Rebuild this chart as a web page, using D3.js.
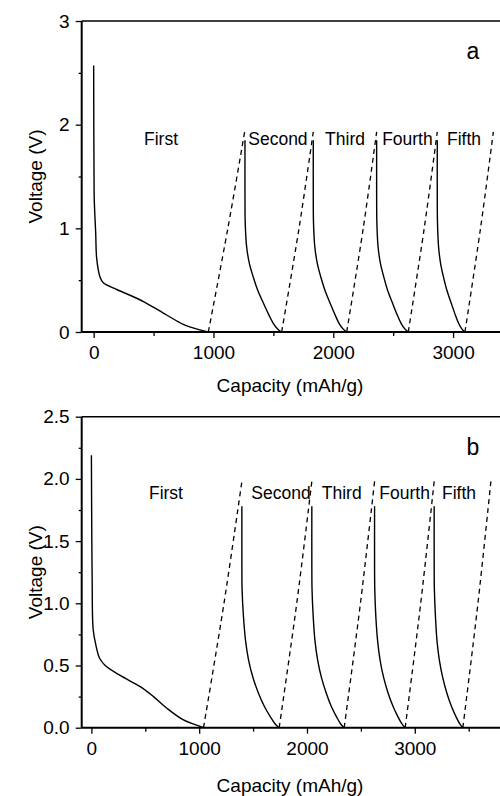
<!DOCTYPE html>
<html><head><meta charset="utf-8">
<script src="https://cdn.jsdelivr.net/npm/d3@7/dist/d3.min.js"></script>
<style>body{margin:0;background:#fff}svg{display:block}text{font-family:Arial,"Liberation Sans",sans-serif;fill:#000}</style>
</head><body><svg id="c" width="500" height="796"></svg>
<script>
// ---------- data (capacity mAh/g, voltage V) ----------
const cycleLabels = ["First","Second","Third","Fourth","Fifth"];
// panel a
const aDischarge1 = [[0,2.57],[1,2.0],[3,1.5],[5,1.27],[17,0.95],[25,0.71],[53,0.53],[80,0.475],[192,0.41],[331,0.34],[442,0.277],[609,0.164],[748,0.074],[887,0.02],[957,0]];
const aDischarge2 = [[1263,1.85],[1263,1.3],[1265,1.05],[1277,0.82],[1300,0.66],[1332,0.53],[1370,0.40],[1416,0.28],[1460,0.17],[1499,0.084],[1535,0.03],[1569,0]];
const aDischarge3 = [[1833,1.85],[1833,1.3],[1835,1.05],[1846,0.82],[1867,0.66],[1896,0.53],[1931,0.40],[1973,0.28],[2013,0.17],[2048,0.084],[2081,0.03],[2112,0]];
const aDischarge4 = [[2362,1.85],[2362,1.3],[2364,1.05],[2374,0.82],[2394,0.66],[2422,0.53],[2454,0.40],[2494,0.28],[2532,0.17],[2566,0.084],[2597,0.03],[2626,0]];
const aDischarge5 = [[2868,1.85],[2868,1.3],[2870,1.05],[2879,0.82],[2896,0.66],[2920,0.53],[2949,0.40],[2984,0.28],[3017,0.17],[3046,0.084],[3073,0.03],[3099,0]];
const aCharge1 = [[957,0],[1120,1.0],[1263,1.95]];
const aCharge2 = [[1569,0],[1714,1.0],[1833,1.93]];
const aCharge3 = [[2112,0],[2250,1.0],[2362,1.93]];
const aCharge4 = [[2626,0],[2759,1.0],[2868,1.93]];
const aCharge5 = [[3099,0],[3229,1.0],[3336,1.93]];
const aLabelPos = [[562,1.80],[1538,1.80],[2098,1.80],[2619,1.80],[3091,1.80]];
// panel b
const bDischarge1 = [[0,2.19],[2,1.8],[4,1.5],[7,1.19],[17,0.785],[45,0.65],[75,0.56],[128,0.50],[267,0.42],[453,0.33],[576,0.25],[700,0.156],[854,0.062],[1009,0.01],[1040,0]];
const bDischarge2 = [[1396,1.78],[1396,1.3],[1398,1.107],[1411,0.89],[1430,0.70],[1458,0.544],[1500,0.40],[1550,0.277],[1605,0.17],[1659,0.089],[1705,0.03],[1742,0]];
const bDischarge3 = [[2045,1.78],[2045,1.3],[2047,1.107],[2058,0.89],[2074,0.70],[2099,0.544],[2135,0.40],[2179,0.277],[2226,0.17],[2273,0.089],[2313,0.03],[2345,0]];
const bDischarge4 = [[2627,1.78],[2627,1.3],[2629,1.107],[2639,0.89],[2655,0.70],[2678,0.544],[2712,0.40],[2753,0.277],[2799,0.17],[2843,0.089],[2881,0.03],[2911,0]];
const bDischarge5 = [[3180,1.78],[3180,1.3],[3182,1.107],[3192,0.89],[3206,0.70],[3228,0.544],[3260,0.40],[3298,0.277],[3341,0.17],[3382,0.089],[3418,0.03],[3446,0]];
const bCharge1 = [[1040,0],[1230,1.0],[1396,1.98]];
const bCharge2 = [[1742,0],[1905,1.0],[2045,1.98]];
const bCharge3 = [[2345,0],[2496,1.0],[2627,1.98]];
const bCharge4 = [[2911,0],[3055,1.0],[3180,1.98]];
const bCharge5 = [[3446,0],[3586,1.0],[3706,1.98]];
const bLabelPos = [[692,1.84],[1759,1.84],[2322,1.84],[2906,1.84],[3410,1.84]];
// ticks
const xMajor = [0,1000,2000,3000];
const xMinor = [500,1500,2500,3500];
const aYMajor = [0,1,2,3];
const aYMinor = [0.5,1.5,2.5];
const bYMajor = [0,0.5,1.0,1.5,2.0,2.5];
const bYMinor = [0.25,0.75,1.25,1.75,2.25];
const xTitle = "Capacity (mAh/g)";
const yTitle = "Voltage (V)";

// ---------- drawing ----------
const svg = d3.select("#c");
svg.append("defs").append("clipPath").attr("id","clip").append("rect").attr("x",0).attr("y",0).attr("width",500).attr("height",796);

function panel(o){
  const x = d3.scaleLinear().domain(o.xDomain).range([81.7, o.xRight]);
  const y = d3.scaleLinear().domain(o.yDomain).range([o.bottom, o.top]);
  const g = svg.append("g").attr("clip-path","url(#clip)");
  const line = d3.line().x(d=>x(d[0])).y(d=>y(d[1])).curve(d3.curveCatmullRom.alpha(0.5));
  // top frame
  g.append("line").attr("x1",x.range()[0]).attr("x2",500).attr("y1",o.top).attr("y2",o.top)
    .attr("stroke","#000").attr("stroke-width",1.5);
  // curves
  o.discharge.forEach(d=>g.append("path").attr("d",line(d)).attr("fill","none").attr("stroke","#000").attr("stroke-width",1.4));
  o.charge.forEach(d=>g.append("path").attr("d",line(d)).attr("fill","none").attr("stroke","#000").attr("stroke-width",1.3).attr("stroke-dasharray","5,4"));
  // annotations
  o.labelPos.forEach((p,i)=>g.append("text").attr("x",x(p[0])).attr("y",y(p[1])).attr("text-anchor","middle")
    .attr("font-size","17.5px").text(cycleLabels[i]));
  g.append("text").attr("x",473).attr("y",o.letterY).attr("text-anchor","middle").attr("font-size","23px").text(o.letter);
  // axes
  const fmt = o.yFmt;
  const yAx = g.append("g").attr("transform",`translate(${x.range()[0]},0)`)
    .call(d3.axisLeft(y).tickValues(o.yMajor).tickSize(6).tickPadding(6).tickFormat(fmt));
  g.append("g").attr("transform",`translate(${x.range()[0]},0)`)
    .call(d3.axisLeft(y).tickValues(o.yMinor).tickSize(3).tickFormat(""))
    .select(".domain").remove();
  yAx.select(".domain").attr("stroke-width",2).attr("d",`M0,${o.bottom}V${o.top}`);
  const xAx = g.append("g").attr("transform",`translate(0,${o.bottom})`)
    .call(d3.axisBottom(x).tickValues(xMajor).tickSize(6).tickPadding(8).tickFormat(d3.format("d")));
  g.append("g").attr("transform",`translate(0,${o.bottom})`)
    .call(d3.axisBottom(x).tickValues(xMinor).tickSize(4).tickFormat(""))
    .select(".domain").remove();
  xAx.select(".domain").attr("stroke-width",2).attr("d",`M${x.range()[0]},0H500`);
  g.selectAll(".tick line").attr("stroke-width",1.3);
  g.selectAll(".tick text").attr("font-size","19px").attr("font-family","Arial, 'Liberation Sans', sans-serif").attr("fill","#000");
  // titles
  g.append("text").attr("x",290).attr("y",o.xTitleY).attr("text-anchor","middle").attr("font-size","19px").text(xTitle);
  g.append("text").attr("transform",`translate(42,${(o.top+o.bottom)/2}) rotate(-90)`).attr("text-anchor","middle").attr("font-size","19px").text(yTitle);
}

panel({xDomain:[-100,3400], xRight:501, yDomain:[0,3], top:21, bottom:332,
  discharge:[aDischarge1,aDischarge2,aDischarge3,aDischarge4,aDischarge5],
  charge:[aCharge1,aCharge2,aCharge3,aCharge4,aCharge5],
  labelPos:aLabelPos, letter:"a", letterY:59, yMajor:aYMajor, yMinor:aYMinor, yFmt:d3.format("d"), xTitleY:392});
panel({xDomain:[-90,3850], xRight:506.4, yDomain:[0,2.5], top:416.7, bottom:727.7,
  discharge:[bDischarge1,bDischarge2,bDischarge3,bDischarge4,bDischarge5],
  charge:[bCharge1,bCharge2,bCharge3,bCharge4,bCharge5],
  labelPos:bLabelPos, letter:"b", letterY:455, yMajor:bYMajor, yMinor:bYMinor, yFmt:d3.format(".1f"), xTitleY:792});
</script></body></html>
